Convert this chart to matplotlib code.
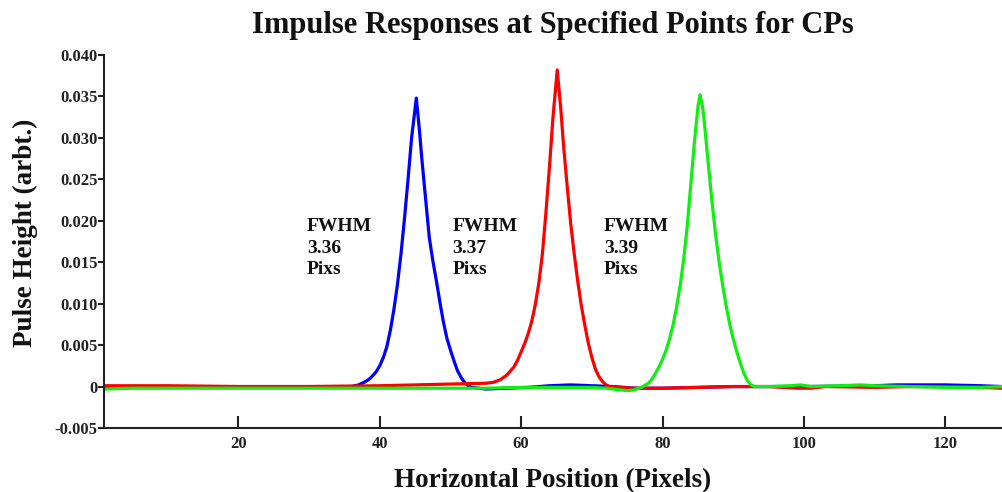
import matplotlib
matplotlib.use("Agg")
import matplotlib.pyplot as plt

plt.rcParams['font.family'] = ['Liberation Serif', 'DejaVu Serif']
plt.rcParams['font.weight'] = 'bold'

# values
blue_x = [1, 10, 20, 30, 36, 37, 38, 38.5, 39, 39.5, 40, 40.5, 41, 41.5, 42, 42.5, 43, 43.5,
          44, 44.5, 45.17, 45.6, 46, 46.5, 47, 47.5, 48, 48.5, 49, 49.5, 50, 50.5, 51, 51.5,
          52, 52.5, 53, 55, 58, 61, 64, 67, 70, 73, 76, 80, 85, 90, 100, 110, 113, 120, 125,
          128]
blue_y = [-0.0001, 0.0, 0.0, 0.0, 0.0, 0.0002, 0.0006, 0.0009, 0.0013, 0.0018, 0.0025,
          0.0035, 0.0048, 0.0068, 0.0093, 0.0123, 0.016, 0.0203, 0.025, 0.030, 0.0348, 0.031,
          0.027, 0.0225, 0.018, 0.0152, 0.0128, 0.0102, 0.0078, 0.0058, 0.0044, 0.0031,
          0.0019, 0.0011, 0.0005, 0.0001, -0.0001, -0.0003, -0.0002, -0.0001, 0.0001, 0.0002,
          0.0001, 0.0, -0.0002, -0.0002, -0.0001, 0.0, 0.0, 0.0001, 0.0002, 0.0002, 0.0001,
          0.0]

red_x = [1, 10, 20, 30, 40, 45, 50, 55, 56, 57, 58, 59, 59.5, 60, 60.5, 61, 61.5, 62, 62.5,
         63, 63.5, 64, 64.5, 65.1, 65.6, 66, 66.5, 67, 67.5, 68, 68.5, 69, 69.5, 70, 70.5, 71,
         71.5, 72, 72.5, 74, 76, 80, 85, 90, 95, 99, 101, 103, 110, 115, 120, 125, 128]
red_y = [0.0001, 0.0001, 0.0, 0.0, 0.0001, 0.0002, 0.0003, 0.0004, 0.0005, 0.0008, 0.0014,
         0.0024, 0.0032, 0.0042, 0.0052, 0.0064, 0.0079, 0.0099, 0.0125, 0.016, 0.021,
         0.0265, 0.0325, 0.0382, 0.0335, 0.029, 0.0242, 0.0197, 0.016, 0.0127, 0.0098,
         0.0074, 0.0052, 0.0035, 0.0021, 0.0012, 0.0006, 0.0002, 0.0, -0.0001, -0.0002,
         -0.0002, -0.0001, 0.0, 0.0, -0.0002, -0.0002, 0.0, -0.0001, 0.0, 0.0, -0.0001,
         -0.0002]

green_x = [1, 5, 20, 40, 55, 60, 65, 70, 72, 73, 74, 75, 76, 77, 78, 78.5, 79, 79.5, 80, 80.5,
           81, 81.5, 82, 82.5, 83, 83.5, 84, 84.5, 85, 85.3, 85.7, 86, 86.5, 87, 87.5, 88,
           88.5, 89, 89.5, 90, 90.5, 91, 91.5, 92, 92.5, 93, 95, 98, 99.5, 101, 105, 108, 110,
           115, 120, 125, 128]
green_y = [-0.0003, -0.0002, -0.0002, -0.0002, -0.0002, -0.0001, -0.0001, -0.0001, -0.0002,
           -0.0003, -0.0004, -0.0005, -0.0004, -0.0001, 0.0004, 0.0009, 0.0016, 0.0024,
           0.0033, 0.0044, 0.0058, 0.0075, 0.0097, 0.0123, 0.0155, 0.0195, 0.0245, 0.0295,
           0.0338, 0.0352, 0.0335, 0.031, 0.0265, 0.0222, 0.0183, 0.015, 0.0122, 0.0097,
           0.0075, 0.0057, 0.0042, 0.0028, 0.0016, 0.0007, 0.0002, 0.0, 0.0, 0.0001, 0.0002,
           0.0, 0.0001, 0.0002, 0.0001, 0.0, -0.0001, -0.0001, 0.0]

fwhm_labels = ["FWHM\n3.36\nPixs", "FWHM\n3.37\nPixs", "FWHM\n3.39\nPixs"]
fwhm_x = [29.7, 50.3, 71.7]
fwhm_y = 0.0167

x_ticks = [20, 40, 60, 80, 100, 120]
y_ticks = [-0.005, 0, 0.005, 0.010, 0.015, 0.020, 0.025, 0.030, 0.035, 0.040]
y_tick_labels = ["-0.005", "0", "0.005", "0.010", "0.015", "0.020", "0.025", "0.030",
                 "0.035", "0.040"]

fig = plt.figure(figsize=(10.02, 4.92), dpi=100)
ax = fig.add_axes([104 / 1002, 1 - 428 / 492, 898 / 1002, (428 - 55) / 492])

ax.plot(blue_x, blue_y, color='#0000ff', lw=2.3)
ax.plot(red_x, red_y, color='#ff0000', lw=2.3)
ax.plot(green_x, green_y, color='#11ee11', lw=2.3)

for lab, xx in zip(fwhm_labels, fwhm_x):
    ax.text(xx, fwhm_y, lab, fontsize=14, fontweight='bold', ha='left', va='center',
            linespacing=1.32, color='#111111')

ax.set_xlim(1, 128)
ax.set_ylim(-0.005, 0.040)
ax.set_xticks(x_ticks)
ax.set_yticks(y_ticks)
ax.set_yticklabels(y_tick_labels)

for s in ['top', 'right']:
    ax.spines[s].set_visible(False)
for s in ['left', 'bottom']:
    ax.spines[s].set_linewidth(1.5)
    ax.spines[s].set_color('#222222')

ax.tick_params(axis='x', direction='in', length=9, width=1.5, labelsize=12, pad=6,
               colors='#222222')
ax.tick_params(axis='y', direction='out', length=4, width=1.5, labelsize=12, pad=0.5,
               colors='#222222')
for lbl in ax.get_xticklabels() + ax.get_yticklabels():
    lbl.set_fontweight('bold')

ax.set_title("Impulse Responses at Specified Points for CPs", fontsize=22,
             fontweight='bold', pad=16, color='#111111')
ax.set_xlabel("Horizontal Position (Pixels)", fontsize=19.5, fontweight='bold',
              labelpad=11, color='#111111')
ax.set_ylabel("Pulse Height (arbt.)", fontsize=19.5, fontweight='bold', color='#111111')
ax.yaxis.set_label_coords(-0.074, 0.523)

fig.savefig("out.png", dpi=100)
